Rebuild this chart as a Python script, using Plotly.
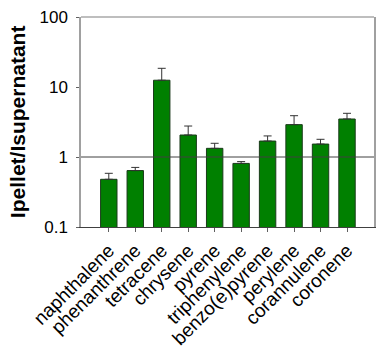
import plotly.graph_objects as go

compounds = ["naphthalene", "phenanthrene", "tetracene", "chrysene", "pyrene",
             "triphenylene", "benzo(e)pyrene", "perylene", "corannulene", "coronene"]
ratio = [0.48, 0.64, 12.5, 2.06, 1.33, 0.81, 1.69, 2.9, 1.53, 3.49]
err_plus = [0.105, 0.07, 6.0, 0.71, 0.24, 0.05, 0.31, 0.99, 0.26, 0.72]

y_tickvals = [0.1, 1, 10, 100]
y_ticktext = ["0.1", "1", "10", "100"]
ref_value = 1

FONT = "Liberation Sans, Arial, sans-serif"

fig = go.Figure()
fig.add_trace(go.Bar(
    x=compounds, y=ratio,
    width=0.62,
    marker=dict(color="#008000", line=dict(color="#1a3a1a", width=1)),
    error_y=dict(type="data", array=err_plus, arrayminus=[0]*len(err_plus),
                 symmetric=False, color="#333333", thickness=1, width=4),
))

fig.add_shape(type="line", xref="paper", x0=0, x1=1, yref="y", y0=ref_value, y1=ref_value,
              line=dict(color="#404040", width=1))
fig.add_shape(type="line", xref="paper", x0=0, x1=1, yref="paper", y0=1, y1=1,
              line=dict(color="#a8a8a8", width=1.5))

fig.add_annotation(text="<b>Ipellet/Isupernatant</b>", xref="paper", yref="paper",
                   x=-0.218, y=0.5, xanchor="center", yanchor="middle", textangle=-90,
                   showarrow=False, font=dict(size=21, family=FONT, color="black"))

fig.update_layout(
    width=389, height=349,
    margin=dict(l=81, r=15, t=17, b=122),
    plot_bgcolor="white", paper_bgcolor="white",
    showlegend=False, bargap=0.3,
    font=dict(family=FONT, color="black"),
)
fig.update_xaxes(
    range=[-1.05, 10.02], tickangle=-45, automargin=False,
    tickfont=dict(size=19, family=FONT), showline=True, linecolor="#404040", linewidth=1.2,
    ticks="outside", ticklen=4, tickcolor="#606060", showgrid=False,
)
fig.update_yaxes(
    type="log", range=[-1, 2], tickvals=y_tickvals, ticktext=y_ticktext, automargin=False,
    tickfont=dict(size=17, family=FONT), showline=True, linecolor="#a0a0a0", linewidth=1.5, mirror=True,
    ticks="outside", ticklen=3, tickcolor="#606060", showgrid=False, zeroline=False,
    ticklabelstandoff=5, ticklabeloverflow="allow",
)

fig.write_html("out.html", config={"displayModeBar": False},
               post_script="document.body.style.margin='0';")
